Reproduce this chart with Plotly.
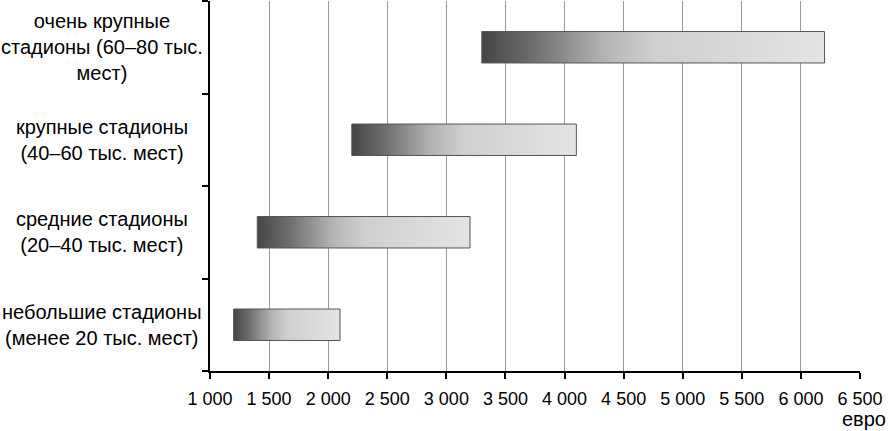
import plotly.graph_objects as go

categories = [
    "небольшие стадионы<br>(менее 20 тыс. мест)",
    "средние стадионы<br>(20–40 тыс. мест)",
    "крупные стадионы<br>(40–60 тыс. мест)",
    "очень крупные<br>стадионы (60–80 тыс.<br>мест)",
]
price_min = [1200, 1400, 2200, 3300]
price_max = [2100, 3200, 4100, 6200]
tick_values = [1000, 1500, 2000, 2500, 3000, 3500, 4000, 4500, 5000, 5500, 6000, 6500]
tick_labels = ["1 000", "1 500", "2 000", "2 500", "3 000", "3 500", "4 000",
               "4 500", "5 000", "5 500", "6 000", "6 500"]
unit_label = "евро"

FONT = "Liberation Sans, Arial, sans-serif"
half = 0.17

fig = go.Figure()
for i, (lo, hi) in enumerate(zip(price_min, price_max)):
    fig.add_trace(go.Scatter(
        x=[lo, hi, hi, lo, lo],
        y=[i - half, i - half, i + half, i + half, i - half],
        mode="lines",
        fill="toself",
        fillgradient=dict(
            type="horizontal",
            colorscale=[[0, "#454545"], [0.15, "#6e6e6e"], [0.35, "#b2b2b2"],
                        [0.5, "#cfcfcf"], [1, "#e4e4e4"]],
        ),
        line=dict(color="#555555", width=1),
        hoverinfo="skip",
        showlegend=False,
    ))

for i, label in enumerate(categories):
    fig.add_annotation(
        x=-0.166, xref="paper", y=i, yref="y",
        text=label, showarrow=False, align="center",
        xanchor="center", yanchor="middle",
        font=dict(family=FONT, size=20, color="#000000"),
    )

fig.add_annotation(
    x=1.043, xref="paper", y=-0.095, yref="paper",
    text=unit_label, showarrow=False, xanchor="right", yanchor="top",
    font=dict(family=FONT, size=20, color="#000000"),
)

fig.update_xaxes(
    range=[1000, 6500],
    tickvals=tick_values, ticktext=tick_labels,
    showgrid=True, gridcolor="#9a9a9a", gridwidth=1,
    showline=True, linecolor="#000000", linewidth=1.5,
    ticks="outside", ticklen=6, tickcolor="#000000", tickwidth=1.5,
    ticklabelstandoff=5,
    tickfont=dict(family=FONT, size=18, color="#000000"),
    zeroline=False, fixedrange=True,
)
fig.update_yaxes(
    range=[-0.5, 3.5],
    tickvals=[-0.5, 0.5, 1.5, 2.5, 3.5],
    showticklabels=False,
    showgrid=False, zeroline=False,
    showline=True, linecolor="#000000", linewidth=1.5,
    ticks="outside", ticklen=6, tickcolor="#000000", tickwidth=1.5,
    fixedrange=True,
)

fig.update_layout(
    width=888, height=431,
    margin=dict(l=210, r=28, t=1, b=60),
    plot_bgcolor="#ffffff", paper_bgcolor="#ffffff",
    font=dict(family=FONT, size=18, color="#000000"),
)

fig.write_html("out.html", config={"displayModeBar": False},
               post_script="document.body.style.margin='0';")
